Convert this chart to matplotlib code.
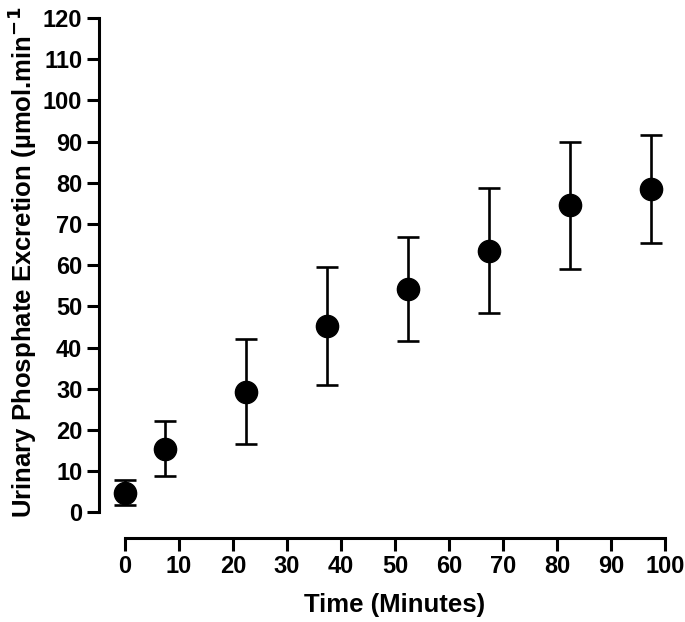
import matplotlib
matplotlib.use("Agg")
import matplotlib.pyplot as plt

time_min = [0, 7.5, 22.5, 37.5, 52.5, 67.5, 82.5, 97.5]
excretion = [4.8, 15.5, 29.3, 45.3, 54.2, 63.5, 74.6, 78.5]
err = [3.0, 6.6, 12.7, 14.3, 12.6, 15.2, 15.4, 13.1]
xticks = list(range(0, 101, 10))
yticks = list(range(0, 121, 10))

plt.rcParams['font.family'] = ['Liberation Sans', 'DejaVu Sans']
plt.rcParams['font.weight'] = 'bold'

W, H = 685, 622
fig = plt.figure(figsize=(W / 100, H / 100), dpi=100)
left, right, top, bottom = 99, 665, 18, 538
ax = fig.add_axes([left / W, (H - bottom) / H, (right - left) / W, (bottom - top) / H])

ax.errorbar(time_min, excretion, yerr=err, fmt='o', color='black', ms=16,
            elinewidth=1.9, capsize=8, capthick=1.9, clip_on=False, zorder=3)

ax.set_xlim(-4.8, 100)
ax.set_ylim(-6.2, 120)
ax.spines['top'].set_visible(False)
ax.spines['right'].set_visible(False)
ax.spines['left'].set_bounds(0, 120)
ax.spines['bottom'].set_bounds(0, 100)
for s in ('left', 'bottom'):
    ax.spines[s].set_linewidth(2.2)
ax.set_xticks(xticks)
ax.set_yticks(yticks)
ax.tick_params(axis='both', length=9, width=2.2, labelsize=17, pad=3)
for lab in ax.get_xticklabels() + ax.get_yticklabels():
    lab.set_fontweight('bold')

ax.set_xlabel('Time (Minutes)', fontsize=18.5, fontweight='bold')
ax.set_ylabel('Urinary Phosphate Excretion (µmol.min$^{\\mathbf{-1}}$', fontsize=18.5,
              fontweight='bold')
ax.xaxis.set_label_coords((395 - left) / (right - left), -(605 - bottom) / (bottom - top))
ax.yaxis.set_label_coords(-(99 - 22) / (right - left), (bottom - 262) / (bottom - top))
ax.xaxis.label.set_va('center')
ax.yaxis.label.set_va('center')

fig.savefig('out.png', dpi=100)
